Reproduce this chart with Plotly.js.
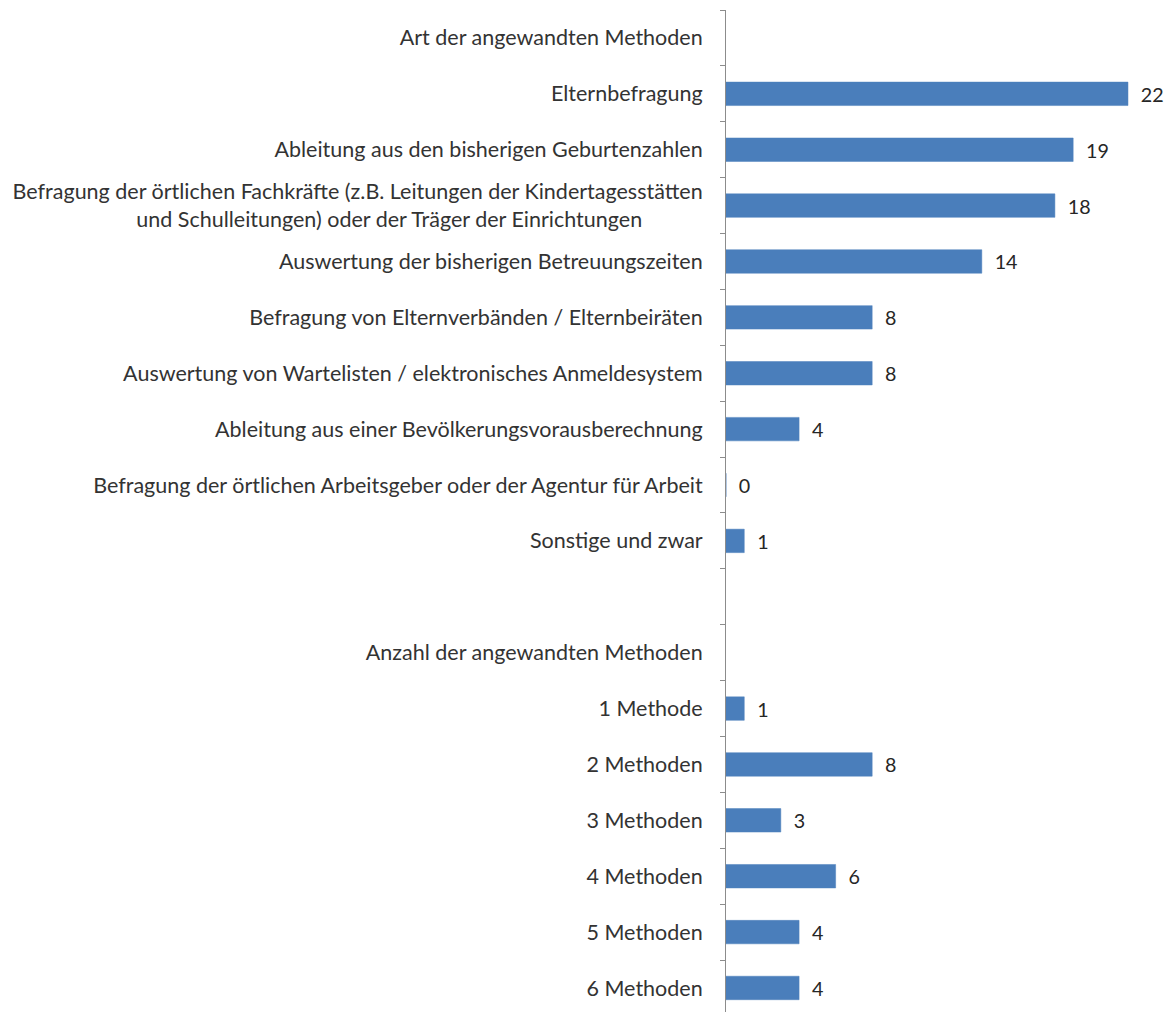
<!DOCTYPE html>
<html>
<head>
<meta charset="utf-8">
<script src="https://cdn.plot.ly/plotly-3.0.1.min.js"></script>
<style>html,body{margin:0;padding:0;background:#fff;}#chart{width:1166px;height:1012px;}</style>
</head>
<body>
<div id="chart"></div>
<script>
const categories = [
  "Art der angewandten Methoden",
  "Elternbefragung",
  "Ableitung aus den bisherigen Geburtenzahlen",
  "Befragung der örtlichen Fachkräfte (z.B. Leitungen der Kindertagesstätten<br>und Schulleitungen) oder der Träger der Einrichtungen" + "\u00a0".repeat(11),
  "Auswertung der bisherigen Betreuungszeiten",
  "Befragung von Elternverbänden / Elternbeiräten",
  "Auswertung von Wartelisten / elektronisches Anmeldesystem",
  "Ableitung aus einer Bevölkerungsvorausberechnung",
  "Befragung der örtlichen Arbeitsgeber oder der Agentur für Arbeit",
  "Sonstige und zwar",
  "\u00a0",
  "Anzahl der angewandten Methoden",
  "1 Methode",
  "2 Methoden",
  "3 Methoden",
  "4 Methoden",
  "5 Methoden",
  "6 Methoden"
];
const values = [null, 22, 19, 18, 14, 8, 8, 4, 0, 1, null, null, 1, 8, 3, 6, 4, 4];
const valueLabels = values.map(v => v === null ? "" : "\u2002" + String(v));

const trace = {
  type: "bar",
  orientation: "h",
  y: categories,
  x: values,
  text: valueLabels,
  textposition: "outside",
  cliponaxis: false,
  textfont: {family: "Lato, sans-serif", size: 21, color: "#262626"},
  marker: {color: "#4A7EBB", line: {color: "#4F81BD", width: 0.5}},
  hoverinfo: "skip"
};

const layout = {
  width: 1166,
  height: 1012,
  margin: {l: 726, r: 0, t: 10, b: 0},
  paper_bgcolor: "#ffffff",
  plot_bgcolor: "#ffffff",
  showlegend: false,
  bargap: 0.58,
  font: {family: "Lato, sans-serif", size: 21.5, color: "#333333"},
  xaxis: {visible: false, range: [0, 24.08], fixedrange: true},
  yaxis: {
    type: "category",
    categoryorder: "array",
    categoryarray: categories,
    range: [17.43, -0.5],
    autorange: false,
    showline: true,
    linecolor: "#8c8c8c",
    linewidth: 1,
    ticks: "outside",
    tickson: "boundaries",
    ticklen: 5,
    tickcolor: "#8c8c8c",
    ticklabelstandoff: 18,
    showgrid: false,
    zeroline: false,
    tickfont: {family: "Lato, sans-serif", size: 21.5, color: "#333333"}
  }
};

Plotly.newPlot("chart", [trace], layout, {displayModeBar: false, staticPlot: true});
</script>
</body>
</html>
